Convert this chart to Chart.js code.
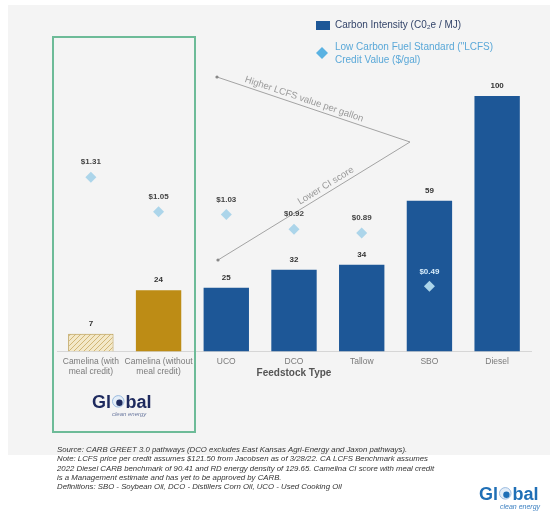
<!DOCTYPE html>
<html>
<head>
<meta charset="utf-8">
<script src="https://cdn.jsdelivr.net/npm/chart.js@4.4.1/dist/chart.umd.min.js"></script>
<style>
    html, body { margin: 0; padding: 0; background: #fff; }
    #wrap { position: relative; width: 550px; height: 519px; }
</style>
</head>
<body>
<div id="wrap"><canvas id="ciChart"></canvas></div>
<script>
// Datos del gráfico
const feedstocks = [['Camelina (with', 'meal credit)'], ['Camelina (without', 'meal credit)'], 'UCO', 'DCO', 'Tallow', 'SBO', 'Diesel'];
const carbonIntensity = [7, 24, 25, 32, 34, 59, 100];
const lcfsCredit = [1.31, 1.05, 1.03, 0.92, 0.89, 0.49, null];
const lcfsLabels = ['$1.31', '$1.05', '$1.03', '$0.92', '$0.89', '$0.49', ''];
const footnotes = [
    'Source: CARB GREET 3.0 pathways (DCO excludes East Kansas Agri-Energy and Jaxon pathways).',
    'Note: LCFS price per credit assumes $121.50 from Jacobsen as of 3/28/22. CA LCFS Benchmark assumes',
    '2022 Diesel CARB benchmark of 90.41 and RD energy density of 129.65. Camelina CI score with meal credit',
    'is a Management estimate and has yet to be approved by CARB.',
    'Definitions: SBO - Soybean Oil, DCO - Distillers Corn Oil, UCO - Used Cooking Oil'
];

const FONT = '"Liberation Sans", Arial, sans-serif';
Chart.defaults.font.family = FONT;

const canvas = document.getElementById('ciChart');
const ctx = canvas.getContext('2d');

// Patrón rayado para la barra "con crédito de harina"
function hatchPattern() {
    const c = document.createElement('canvas');
    c.width = 5; c.height = 5;
    const g = c.getContext('2d');
    g.fillStyle = '#f3e8c8';
    g.fillRect(0, 0, 5, 5);
    g.strokeStyle = '#cdb06c';
    g.lineWidth = 0.9;
    g.beginPath();
    g.moveTo(-1, 6); g.lineTo(6, -1);
    g.stroke();
    return ctx.createPattern(c, 'repeat');
}

const BLUE = '#1d5797';
const barColors = [hatchPattern(), '#bd8c15', BLUE, BLUE, BLUE, BLUE, BLUE];

function drawDiamond(c, x, y, r, color) {
    c.beginPath();
    c.moveTo(x, y - r); c.lineTo(x + r, y); c.lineTo(x, y + r); c.lineTo(x - r, y);
    c.closePath();
    c.fillStyle = color;
    c.fill();
}

function textAlong(c, text, x1, y1, x2, y2, t, off) {
    const ang = Math.atan2(y2 - y1, x2 - x1);
    c.save();
    c.translate(x1 + (x2 - x1) * t, y1 + (y2 - y1) * t);
    c.rotate(ang);
    c.textAlign = 'center';
    c.textBaseline = 'bottom';
    c.fillText(text, 0, -off);
    c.restore();
}

function drawLogo(c, x, base, size, color, tagColor, tagX, tagY, tagSize) {
    c.save();
    c.font = `bold ${size}px ${FONT}`;
    c.fillStyle = color;
    c.textAlign = 'left';
    c.textBaseline = 'alphabetic';
    c.fillText('Gl', x, base);
    const w = c.measureText('Gl').width;
    const r = size * 0.32;
    const gx = x + w + r + 1.5, gy = base - size * 0.37;
    c.beginPath();
    c.arc(gx, gy, r, 0, Math.PI * 2);
    c.fillStyle = '#e4eef8';
    c.fill();
    c.lineWidth = 1;
    c.strokeStyle = '#9bbbe0';
    c.stroke();
    c.beginPath();
    c.arc(gx + r * 0.2, gy + r * 0.25, r * 0.55, 0, Math.PI * 2);
    c.fillStyle = color;
    c.fill();
    c.fillStyle = color;
    c.fillText('bal', gx + r + 1.5, base);
    c.font = `italic ${tagSize}px ${FONT}`;
    c.fillStyle = tagColor;
    c.fillText('clean energy', tagX, tagY);
    c.restore();
}

const decorPlugin = {
    id: 'decor',
    beforeDraw(chart) {
        const c = chart.ctx;
        c.save();
        c.fillStyle = '#ffffff';
        c.fillRect(0, 0, chart.width, chart.height);
        c.fillStyle = '#f4f4f4';
        c.fillRect(8, 5, chart.width - 8, 450);
        c.restore();
    },
    beforeDatasetsDraw(chart) {
        const c = chart.ctx;
        c.save();
        // Flechas
        c.strokeStyle = '#9a9a9a';
        c.lineWidth = 0.9;
        c.beginPath();
        c.moveTo(217, 77); c.lineTo(410, 142); c.lineTo(218, 260);
        c.stroke();
        c.fillStyle = '#888';
        [[217, 77], [218, 260]].forEach(([x, y]) => {
            c.beginPath(); c.arc(x, y, 1.6, 0, Math.PI * 2); c.fill();
        });
        c.fillStyle = '#9a9a9a';
        c.font = `9.5px ${FONT}`;
        textAlong(c, 'Higher LCFS value per gallon', 217, 77, 410, 142, 0.44, 2);
        textAlong(c, 'Lower CI score', 218, 260, 410, 142, 0.58, 2);
        c.restore();
    },
    afterDatasetsDraw(chart) {
        const c = chart.ctx;
        c.save();
        c.textAlign = 'center';
        c.textBaseline = 'middle';
        c.font = `bold 8px ${FONT}`;
        chart.getDatasetMeta(0).data.forEach((bar, i) => {
            c.fillStyle = '#333';
            c.fillText(String(carbonIntensity[i]), bar.x, bar.y - 10);
        });
        chart.getDatasetMeta(1).data.forEach((pt, i) => {
            if (lcfsCredit[i] == null) return;
            c.fillStyle = i === 5 ? '#d6ecfb' : '#444';
            c.fillText(lcfsLabels[i], pt.x, pt.y - 15);
        });
        c.restore();
    },
    afterDraw(chart) {
        const c = chart.ctx;
        c.save();
        // Recuadro verde de Camelina
        c.strokeStyle = '#6dbb98';
        c.lineWidth = 2;
        c.strokeRect(53, 37, 142, 395);

        // Leyenda
        c.fillStyle = BLUE;
        c.fillRect(316, 21, 14, 9);
        c.font = `10px ${FONT}`;
        c.textAlign = 'left';
        c.textBaseline = 'middle';
        c.fillStyle = '#34456a';
        c.fillText('Carbon Intensity (C0\u2082e / MJ)', 335, 25.5);
        drawDiamond(c, 322, 53, 6, '#5ab2e2');
        c.fillStyle = '#5aa8d8';
        c.fillText('Low Carbon Fuel Standard ("LCFS)', 335, 47);
        c.fillText('Credit Value ($/gal)', 335, 60);

        // Logos
        drawLogo(c, 92, 408, 18, '#1e2a5e', '#6c7aa0', 112, 416, 6);
        drawLogo(c, 479, 500, 18, '#1f6fb6', '#3f82c2', 500, 509, 7);

        // Notas
        c.fillStyle = '#333';
        c.font = `italic 7.8px ${FONT}`;
        c.textBaseline = 'middle';
        footnotes.forEach((line, i) => c.fillText(line, 57, 450 + i * 9.2));
        c.restore();
    }
};

new Chart(ctx, {
    type: 'bar',
    data: {
        labels: feedstocks,
        datasets: [{
            label: 'Carbon Intensity (C0\u2082e / MJ)',
            data: carbonIntensity,
            backgroundColor: barColors,
            borderColor: '#b8994a',
            borderWidth: [1, 0, 0, 0, 0, 0, 0],
            categoryPercentage: 1,
            barPercentage: 0.67,
            yAxisID: 'y',
            order: 1
        }, {
            type: 'line',
            label: 'Low Carbon Fuel Standard ("LCFS) Credit Value ($/gal)',
            data: lcfsCredit,
            showLine: false,
            pointStyle: 'rectRot',
            pointRadius: 5.5,
            pointBorderWidth: 0,
            pointBackgroundColor: '#acd5ea',
            yAxisID: 'y2',
            order: 0
        }]
    },
    options: {
        responsive: true,
        maintainAspectRatio: false,
        animation: false,
        layout: { padding: { left: 57, right: 19, top: 96, bottom: 140 } },
        plugins: {
            legend: { display: false },
            tooltip: { enabled: false }
        },
        scales: {
            x: {
                offset: true,
                grid: { display: false, drawTicks: false },
                border: { display: true, color: '#d6d6d6' },
                ticks: { color: '#7a7a7a', font: { size: 8.5 }, padding: 5, maxRotation: 0, autoSkip: false },
                title: {
                    display: true,
                    text: 'Feedstock Type',
                    color: '#555',
                    font: { size: 10, weight: 'bold' },
                    padding: { top: -15, bottom: 0 }
                }
            },
            y: { display: false, min: 0, max: 100 },
            y2: { display: false, min: 0, max: 1.92, position: 'right' }
        }
    },
    plugins: [decorPlugin]
});
</script>
</body>
</html>
